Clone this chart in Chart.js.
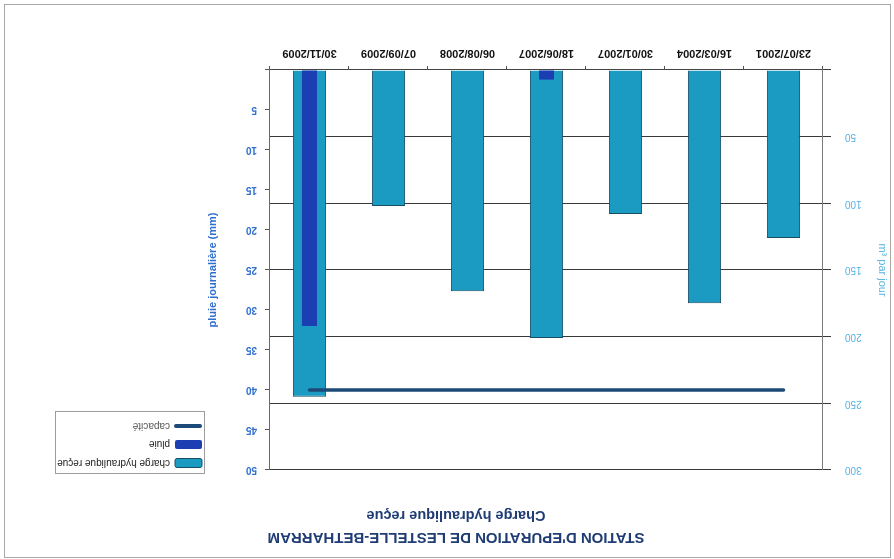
<!DOCTYPE html>
<html lang="fr">
<head>
<meta charset="utf-8">
<title>Station d'épuration de Lestelle-Bétharram</title>
<script src="https://cdn.jsdelivr.net/npm/chart.js@4.4.1/dist/chart.umd.min.js"></script>
<style>
  html, body { margin: 0; padding: 0; background: #ffffff; overflow: hidden; }
  #sheet { position: relative; width: 894px; height: 559px; transform: rotate(180deg); transform-origin: 50% 50%; background: #ffffff; }
  canvas { display: block; }
</style>
</head>
<body>
<div id="sheet"><canvas id="chart" width="894" height="559"></canvas></div>
<script>
// Sampling dates
const categories = ['23/07/2001', '16/03/2004', '30/01/2007', '18/06/2007', '06/08/2008', '07/09/2009', '30/11/2009'];
// Hydraulic load received (m³ per day)
const chargeValues = [126, 175, 108, 201, 166, 102, 245];
// Daily rainfall (mm)
const pluieValues = [0, 0, 0, 1.2, 0, 0, 32];
// Plant capacity (m³ per day)
const capaciteValues = [240, 240, 240, 240, 240, 240, 240];
// Axis ranges
const volumeAxis = { min: 0, max: 300, step: 50 };
const pluieAxis = { min: 0, max: 50, step: 5 };
// Legend order
const legendOrder = ['charge hydraulique reçue', 'pluie', 'capacité'];

const FONT = "'Liberation Sans', Arial, Helvetica, sans-serif";
Chart.defaults.font.family = FONT;

// Outer frame of the sheet
const framePlugin = {
  id: 'frame',
  beforeDraw(chart) {
    const ctx = chart.ctx;
    ctx.save();
    ctx.strokeStyle = '#a8a8a8';
    ctx.lineWidth = 1;
    ctx.strokeRect(3.5, 1.5, 886, 553);
    ctx.restore();
  }
};

// Boxed legend to the right of the rainfall axis
const legendPlugin = {
  id: 'boxedLegend',
  afterDraw(chart) {
    const ctx = chart.ctx;
    const x0 = 689, y0 = 85, w = 149, h = 62;
    ctx.save();
    ctx.fillStyle = '#ffffff';
    ctx.fillRect(x0, y0, w, h);
    ctx.strokeStyle = '#9c9c9c';
    ctx.lineWidth = 1;
    ctx.strokeRect(x0 + 0.5, y0 + 0.5, w, h);
    ctx.font = '10px ' + FONT;
    ctx.textBaseline = 'middle';
    legendOrder.forEach((name, i) => {
      const ds = chart.data.datasets.find(d => d.label === name);
      const cy = y0 + 11 + i * 18.5;
      const sx = x0 + 3;
      if (ds.type === 'line') {
        ctx.strokeStyle = ds.borderColor;
        ctx.lineWidth = 4;
        ctx.lineCap = 'round';
        ctx.beginPath();
        ctx.moveTo(sx + 2, cy);
        ctx.lineTo(sx + 26, cy);
        ctx.stroke();
      } else {
        ctx.fillStyle = ds.backgroundColor;
        ctx.beginPath();
        ctx.roundRect(sx, cy - 4.5, 27, 9, 2);
        ctx.fill();
        if (ds.borderWidth) {
          ctx.strokeStyle = ds.borderColor;
          ctx.lineWidth = 1;
          ctx.stroke();
        }
      }
      ctx.fillStyle = name === 'capacité' ? '#555555' : '#222222';
      ctx.fillText(name, x0 + 35, cy + 0.5);
    });
    ctx.restore();
  }
};

new Chart(document.getElementById('chart'), {
  data: {
    labels: categories,
    datasets: [
      {
        type: 'line',
        label: 'capacité',
        data: capaciteValues,
        yAxisID: 'y',
        borderColor: '#1c4a78',
        borderWidth: 3.5,
        borderCapStyle: 'round',
        pointRadius: 0,
        fill: false,
        order: 0
      },
      {
        type: 'bar',
        label: 'pluie',
        data: pluieValues,
        yAxisID: 'y1',
        backgroundColor: '#1b3fb2',
        borderWidth: 0,
        grouped: false,
        categoryPercentage: 1,
        barPercentage: 0.19,
        order: 1
      },
      {
        type: 'bar',
        label: 'charge hydraulique reçue',
        data: chargeValues,
        yAxisID: 'y',
        backgroundColor: '#1c9bc2',
        borderColor: '#164e66',
        borderWidth: 1,
        grouped: false,
        categoryPercentage: 1,
        barPercentage: 0.42,
        order: 2
      }
    ]
  },
  options: {
    responsive: false,
    animation: false,
    devicePixelRatio: 1,
    layout: { padding: { left: 0, right: 18, top: 0, bottom: 0 } },
    plugins: {
      legend: { display: false },
      tooltip: { enabled: false },
      title: {
        display: true,
        text: "STATION D'EPURATION DE LESTELLE-BETHARRAM",
        color: '#1f3c74',
        font: { size: 15, weight: 'bold' },
        padding: { top: 13, bottom: 4.3 }
      },
      subtitle: {
        display: true,
        text: 'Charge hydraulique reçue',
        color: '#1f3c74',
        font: { size: 14.5, weight: 'bold' },
        padding: { top: 0, bottom: 36.3 }
      }
    },
    scales: {
      x: {
        type: 'category',
        position: 'bottom',
        grid: { display: true, drawOnChartArea: false, offset: true, tickLength: 4, color: '#555555' },
        border: { display: true, color: '#444444', width: 1 },
        ticks: { color: '#111111', font: { size: 11, weight: 'bold' }, padding: 6, maxRotation: 0, autoSkip: false },
        afterFit(scale) { scale.height = 70; }
      },
      y: {
        type: 'linear',
        position: 'left',
        min: volumeAxis.min,
        max: volumeAxis.max,
        weight: 0,
        grid: { color: '#3a3a3a', lineWidth: 1, tickLength: 8, drawOnChartArea: true },
        border: { display: true, color: '#7a7a7a', width: 1 },
        ticks: {
          stepSize: volumeAxis.step,
          color: '#55b1e2',
          font: { size: 10 },
          padding: 14,
          callback: v => (v === 0 ? '' : v)
        },
        title: {
          display: true,
          text: 'm³ par jour',
          color: '#5ab4e4',
          font: { size: 11 },
          padding: { top: 5, bottom: 0 }
        },
        afterFit(scale) { scale.width = 71; }
      },
      y1: {
        type: 'linear',
        position: 'right',
        min: pluieAxis.min,
        max: pluieAxis.max,
        weight: 0,
        grid: { drawOnChartArea: false, tickLength: 5, color: '#555555' },
        border: { display: true, color: '#6a6a6a', width: 1 },
        ticks: {
          stepSize: pluieAxis.step,
          color: '#2e6fd0',
          font: { size: 10, weight: 'bold' },
          padding: 8,
          callback: v => (v === 0 ? '' : v)
        },
        title: {
          display: true,
          text: 'pluie journalière (mm)',
          color: '#2e6fd0',
          font: { size: 11, weight: 'bold' },
          padding: { top: 0, bottom: 0 }
        },
        afterFit(scale) { scale.width = 64; }
      },
      legendSpace: {
        type: 'linear',
        position: 'right',
        weight: 1,
        display: true,
        grid: { display: false, drawTicks: false },
        border: { display: false },
        ticks: { display: false },
        afterFit(scale) { scale.width = 188; }
      }
    }
  },
  plugins: [framePlugin, legendPlugin]
});
</script>
</body>
</html>
